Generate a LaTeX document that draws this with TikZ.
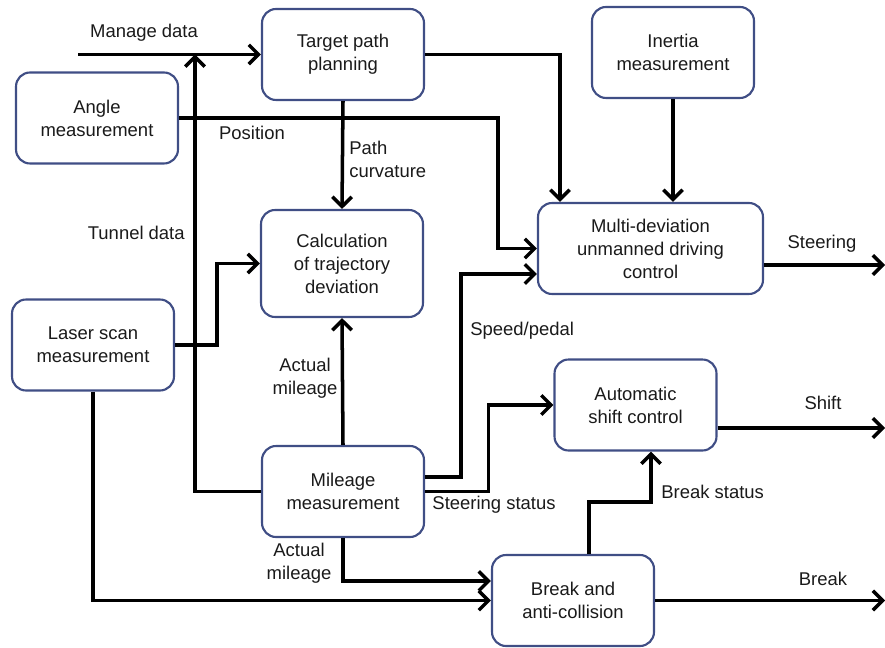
\documentclass[tikz,border=0pt]{standalone}
\usepackage{fontspec}
\setmainfont{Liberation Sans}
\usetikzlibrary{arrows.meta, positioning, calc}
\definecolor{boxNavy}{HTML}{404E85}
\definecolor{inkDark}{HTML}{1A1A1A}
\tikzset{
  block/.style={draw=boxNavy, line width=1.2pt, rounded corners=0.28cm, fill=white,
                minimum width=3.24cm, minimum height=1.82cm, align=center,
                font=\fontsize{10.5}{13.1}\selectfont, text=inkDark},
  arrow/.style={-{Straight Barb[length=5.5pt, width=11pt]}, line width=2pt},
  lbl/.style={font=\fontsize{10.5}{13.1}\selectfont, text=inkDark, inner sep=0pt},
}
\begin{document}
\begin{tikzpicture}[x=0.02cm, y=-0.02cm]
\useasboundingbox (0,0) rectangle (885,648);
% blocks
\node[block] (target) at (343, 54.5) {Target path\\planning};
\node[block] (angle) at (97, 118) {Angle\\measurement};
\node[block] (inertia) at (673, 52.5) {Inertia\\measurement};
\node[block, minimum height=2.14cm] (calc) at (342, 263.5) {Calculation\\of trajectory\\deviation};
\node[block, minimum width=4.5cm] (multi) at (650.5, 248.5) {Multi-deviation\\unmanned driving\\control};
\node[block] (laser) at (93, 345) {Laser scan\\measurement};
\node[block] (shiftctl) at (635.5, 405) {Automatic\\shift control};
\node[block] (mileage) at (343, 491.5) {Mileage\\measurement};
\node[block] (breakac) at (573, 600.5) {Break and\\anti-collision};
% free ends
\coordinate (manage) at (78, 54.5);
\coordinate (tunneltop) at (195, 54.5);
\coordinate (steerout) at (885, 265);
\coordinate (shiftout) at (885, 428);
\coordinate (breakout) at (885, 600.5);
% connectors
\draw[arrow] (manage) -- (target.west);
\draw[arrow] (mileage.west) -| (tunneltop);
\draw[arrow] (angle.east) -| ($(multi.west)+(-39,0)$) -- (multi.west);
\draw[arrow] (target.south) -- (calc.north);
\draw[arrow] (target.east) -| ($(multi.north)+(-90.5,0)$);
\draw[arrow] (inertia.south) -- (inertia.south |- multi.north);
\draw[arrow] (multi.east |- steerout) -- (steerout);
\draw[arrow] ($(mileage.east)+(0,-14.5)$) -| ($(multi.west)+(-76,25.5)$) -- ($(multi.west)+(0,25.5)$);
\draw[arrow] (mileage.east) -| ($(shiftctl.west)+(-65,0)$) -- (shiftctl.west);
\draw[arrow] (laser.east) -| ($(calc.west)+(-43,0)$) -- (calc.west);
\draw[arrow] (laser.south) |- (breakac.west);
\draw[arrow] (mileage.south) |- ($(breakac.west)+(0,-19.5)$);
\draw[arrow] (mileage.north) -- (calc.south);
\draw[arrow] ($(breakac.north)+(16,0)$) -- ++(0,-52) -| ($(shiftctl.south)+(15.5,0)$);
\draw[arrow] (shiftctl.east |- shiftout) -- (shiftout);
\draw[arrow] (breakac.east) -- (breakout);
% labels
\node[lbl] (lmanage) at (144, 33) {Manage data};
\node[lbl] (lpos) at (252, 133) {Position};
\node[lbl, anchor=west, align=left] (lcurv) at (349, 159.5) {Path\\curvature};
\node[lbl, anchor=east] (ltunnel) at (185, 233) {Tunnel data};
\node[lbl, align=center] (lmile1) at (305, 378) {Actual\\mileage};
\node[lbl, align=center] (lmile2) at (299, 563) {Actual\\mileage};
\node[lbl, anchor=west] (lspeed) at (470, 331) {Speed/pedal};
\node[lbl] (lsteerst) at (494, 505) {Steering status};
\node[lbl, anchor=west] (lbrkst) at (661, 492) {Break status};
\node[lbl] (lsteer) at (822, 244) {Steering};
\node[lbl] (lshift) at (823, 403) {Shift};
\node[lbl] (lbreak) at (823, 579) {Break};
\end{tikzpicture}
\end{document}
